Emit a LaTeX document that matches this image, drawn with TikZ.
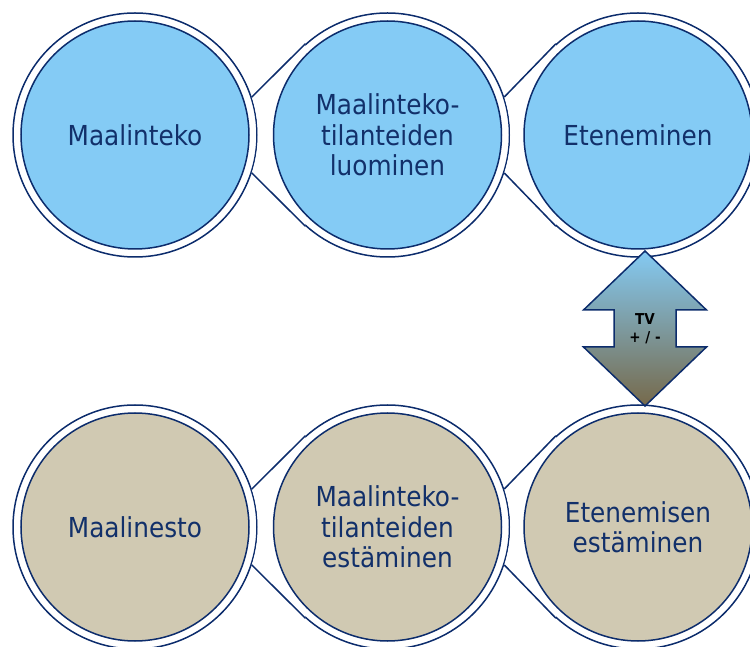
\documentclass[tikz,border=0pt]{standalone}
\usepackage{fontspec}
\setmainfont{DejaVu Sans Condensed}
\usepackage{tikz}
\usetikzlibrary{positioning}

\definecolor{navy}{HTML}{0C2C6C}
\definecolor{navytext}{HTML}{12306A}
\definecolor{skyfill}{HTML}{84CBF5}
\definecolor{sandfill}{HTML}{D0C9B2}
\definecolor{arrtop}{HTML}{84CAF3}
\definecolor{arrmid}{HTML}{EEEEE8}
\definecolor{arrbot}{HTML}{76694A}

\begin{document}
\begin{tikzpicture}[x=1pt, y=1pt,
  ring/.style={draw=navy, line width=1.5pt, fill=white, circle,
               minimum size=244pt, inner sep=0pt},
  disc/.style={draw=navy, line width=1.5pt, circle, minimum size=228pt,
               inner sep=0pt, align=center, text=navytext,
               font=\fontsize{27.5}{30.5}\selectfont},
  link/.style={draw=navy, line width=1.5pt}]
  \useasboundingbox (0,0) rectangle (750,646);
  \clip (0,0) rectangle (750,646);
  % outer rings
  \node[ring] (t1) at (135,511) {};
  \node[ring, right=7pt of t1] (t2) {};
  \node[ring, right=5pt of t2] (t3) {};
  \node[ring, below=146.5pt of t1] (b1) {};
  \node[ring, right=7pt of b1] (b2) {};
  \node[ring, right=5pt of b2] (b3) {};
  % links between the rings
  \foreach \a/\b in {t1/t2, t2/t3, b1/b2, b2/b3} {
    \fill[white] (\a.18) -- (\b.132) -- (\b.228) -- (\a.-18)
      arc[start angle=-18, end angle=18, radius=122.75pt] -- cycle;
    \draw[link] (\a.18) -- (\b.132) (\a.-18) -- (\b.228);
  }
  % inner discs
  \node[disc, fill=skyfill] (t1i) at (t1) {Maalinteko};
  \node[disc, fill=skyfill] (t2i) at (t2) {Maalinteko-\\tilanteiden\\luominen};
  \node[disc, fill=skyfill] (t3i) at (t3) {Eteneminen};
  \node[disc, fill=sandfill] (b1i) at (b1) {Maalinesto};
  \node[disc, fill=sandfill] (b2i) at (b2) {Maalinteko-\\tilanteiden\\estäminen};
  \node[disc, fill=sandfill] (b3i) at (b3) {Etenemisen\\estäminen};
  % double arrow
  \shade[top color=arrtop, middle color=arrmid, bottom color=arrbot,
         draw=navy, line width=1.5pt, line join=miter]
    (645,395) -- (706.5,336) -- (676,336) -- (676,299) -- (706.5,299)
    -- (645,240) -- (583.5,299) -- (614,299) -- (614,336) -- (583.5,336)
    -- cycle;
  \node[align=center, font=\fontsize{15}{18}\selectfont\bfseries] (tv)
    at (645,317) {TV\\+ / -};
\end{tikzpicture}
\end{document}
